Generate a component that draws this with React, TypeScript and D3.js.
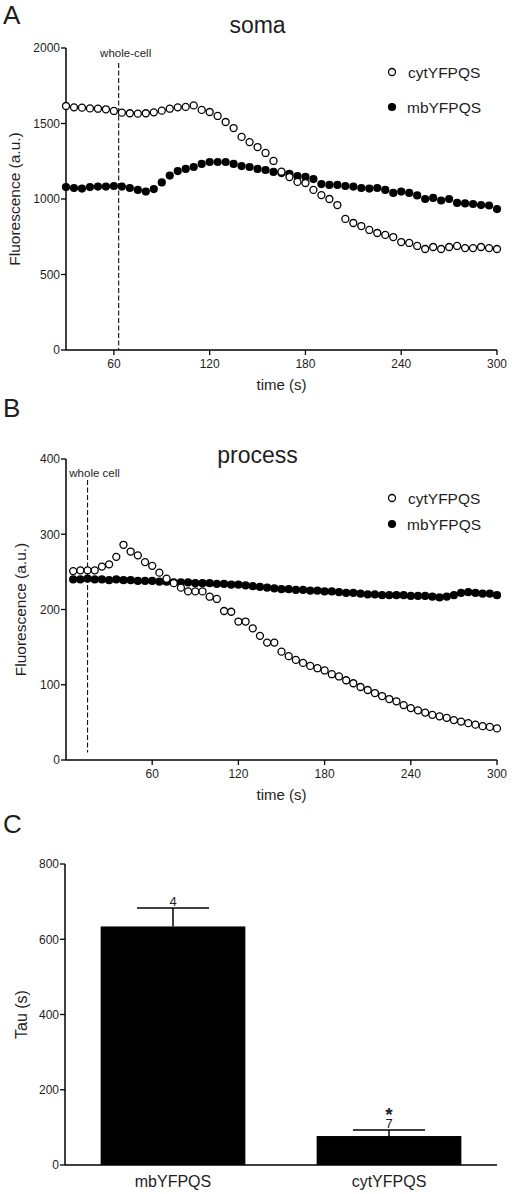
import React from "react";
import * as d3 from "d3";

// ---------- DATA ----------
// Panel A (soma): time 30..300 s every 5 s
const somaTimes: number[] = d3.range(30, 301, 5);
const somaCyt: number[] = [
  1616, 1607, 1605, 1600, 1598, 1594, 1583, 1572, 1568, 1565, 1568, 1574, 1585, 1598, 1607, 1610,
  1620, 1590, 1576, 1550, 1510, 1470, 1411, 1377, 1344, 1305, 1252, 1181, 1145, 1113, 1106, 1060,
  1026, 1000, 960, 868, 841, 821, 795, 775, 762, 748, 715, 709, 689, 669, 682, 669, 682, 689, 675,
  675, 682, 675, 669,
];
const somaMb: number[] = [
  1079, 1073, 1069, 1079, 1082, 1082, 1086, 1082, 1073, 1060, 1049, 1066, 1110, 1155, 1185, 1199,
  1212, 1232, 1245, 1245, 1245, 1232, 1218, 1212, 1199, 1192, 1179, 1172, 1166, 1152, 1146, 1132,
  1099, 1093, 1093, 1086, 1082, 1073, 1069, 1073, 1060, 1040, 1049, 1040, 1024, 1000, 1007, 990,
  1000, 974, 971, 967, 960, 957, 933,
];
// Panel B (process): time 5..300 s every 5 s
const procTimes: number[] = d3.range(5, 301, 5);
const procCyt: number[] = [
  251, 252, 252, 252, 257, 260, 270, 286, 277, 272, 263, 258, 249, 241, 235, 229, 224, 224, 224, 217,
  214, 198, 197, 184, 184, 175, 165, 156, 156, 144, 138, 133, 129, 125, 122, 119, 114, 111, 106, 102,
  97, 93, 89, 85, 81, 78, 73, 69, 66, 63, 60, 58, 56, 53, 51, 49, 47, 45, 44, 42,
];
const procMb: number[] = [
  240, 240, 241, 240, 240, 239, 240, 239, 239, 238, 238, 238, 237, 237, 236, 236, 236, 235, 235, 235,
  234, 234, 233, 233, 232, 231, 230, 229, 228, 227, 227, 226, 226, 225, 225, 224, 224, 223, 222, 222,
  221, 220, 220, 219, 219, 219, 219, 218, 218, 218, 217, 216, 217, 219, 222, 223, 222, 221, 221, 219,
];
const somaWholeCellTime = 63;
const procWholeCellTime = 15;
const somaDashRange: [number, number] = [0, 1900];
const procDashRange: [number, number] = [10, 372];

const somaXTicks = [60, 120, 180, 240, 300];
const somaYTicks = [0, 500, 1000, 1500, 2000];
const procXTicks = [60, 120, 180, 240, 300];
const procYTicks = [0, 100, 200, 300, 400];

// Panel C
const barCategories = ["mbYFPQS", "cytYFPQS"];
const barMeans = [634, 77];
const barErrors = [49, 16];
const barNs = ["4", "7"];
const barStars = ["", "*"];
const barYTicks = [0, 200, 400, 600, 800];

const seriesNames = ["cytYFPQS", "mbYFPQS"];

const FONT = "'Liberation Sans', Arial, Helvetica, sans-serif";
const TXT = "#1e1e1e";

type PanelProps = {
  times: number[];
  cyt: number[];
  mb: number[];
  xDomain: [number, number];
  yDomain: [number, number];
  top: number;
  bottom: number;
  xTicks: number[];
  yTicks: number[];
  title: string;
  titleY: number;
  letter: string;
  letterY: number;
  wcTime: number;
  wcRange: [number, number];
  wcLabel: string;
  wcLabelY: number;
  legendY: [number, number];
  yLabelX: number;
};

const LEFT = 66;
const RIGHT = 497;

function LinePanel(p: PanelProps) {
  const x = d3.scaleLinear().domain(p.xDomain).range([LEFT, RIGHT]);
  const y = d3.scaleLinear().domain(p.yDomain).range([p.bottom, p.top]);
  const r = 3.5;
  return (
    <g>
      <text x={3} y={p.letterY} fontSize={26} fontFamily={FONT} fill={TXT}>
        {p.letter}
      </text>
      <text x={257.5} y={p.titleY} fontSize={23} fontFamily={FONT} fill={TXT} textAnchor="middle">
        {p.title}
      </text>
      {/* whole-cell dashed line */}
      <line
        x1={x(p.wcTime)}
        x2={x(p.wcTime)}
        y1={y(p.wcRange[1])}
        y2={y(p.wcRange[0])}
        stroke="#111"
        strokeWidth={1.1}
        strokeDasharray="5,2.5"
      />
      <text x={x(p.wcTime) + 7} y={p.wcLabelY} fontSize={11.5} fontFamily={FONT} fill={TXT} textAnchor="middle">
        {p.wcLabel}
      </text>
      {/* axes */}
      <line x1={LEFT} x2={LEFT} y1={p.top} y2={p.bottom} stroke="#000" strokeWidth={1.5} />
      <line x1={LEFT} x2={RIGHT} y1={p.bottom} y2={p.bottom} stroke="#000" strokeWidth={1.5} />
      {p.yTicks.map((t) => (
        <g key={"yt" + t}>
          <line x1={LEFT - 5} x2={LEFT} y1={y(t)} y2={y(t)} stroke="#000" strokeWidth={1.3} />
          <text x={LEFT - 6} y={y(t) + 4.3} fontSize={12} fontFamily={FONT} fill={TXT} textAnchor="end">
            {t}
          </text>
        </g>
      ))}
      {p.xTicks.map((t) => (
        <g key={"xt" + t}>
          <line x1={x(t)} x2={x(t)} y1={p.bottom} y2={p.bottom + 5} stroke="#000" strokeWidth={1.3} />
          <text x={x(t)} y={p.bottom + 17.5} fontSize={12} fontFamily={FONT} fill={TXT} textAnchor="middle">
            {t}
          </text>
        </g>
      ))}
      <text x={281.5} y={p.bottom + 40} fontSize={15} fontFamily={FONT} fill={TXT} textAnchor="middle">
        time (s)
      </text>
      <text
        transform={`translate(${p.yLabelX},${(p.top + p.bottom) / 2}) rotate(-90)`}
        fontSize={15.5}
        fontFamily={FONT}
        fill={TXT}
        textAnchor="middle"
      >
        Fluorescence (a.u.)
      </text>
      {/* series: filled first, open on top */}
      {p.mb.map((v, i) => (
        <circle key={"mb" + i} cx={x(p.times[i])} cy={y(v)} r={r + 0.6} fill="#000" />
      ))}
      {p.cyt.map((v, i) => (
        <circle key={"cy" + i} cx={x(p.times[i])} cy={y(v)} r={r} fill="#fff" stroke="#000" strokeWidth={1.3} />
      ))}
      {/* legend */}
      <circle cx={392} cy={p.legendY[0]} r={r} fill="#fff" stroke="#000" strokeWidth={1.3} />
      <text x={408} y={p.legendY[0] + 5.5} fontSize={15.5} fontFamily={FONT} fill={TXT}>
        {seriesNames[0]}
      </text>
      <circle cx={392} cy={p.legendY[1]} r={r + 0.6} fill="#000" />
      <text x={407} y={p.legendY[1] + 5.5} fontSize={15.5} fontFamily={FONT} fill={TXT}>
        {seriesNames[1]}
      </text>
    </g>
  );
}

function BarPanel() {
  const top = 864;
  const bottom = 1165;
  const y = d3.scaleLinear().domain([0, 800]).range([bottom, top]);
  const x = d3.scaleBand<string>().domain(barCategories).range([65, 497]).paddingInner(0.33).paddingOuter(0.165);
  const bw = x.bandwidth();
  return (
    <g>
      <text x={3} y={833} fontSize={26} fontFamily={FONT} fill={TXT}>
        C
      </text>
      {barCategories.map((c, i) => {
        const x0 = x(c) as number;
        const cx = x0 + bw / 2;
        const topY = y(barMeans[i]);
        const errY = y(barMeans[i] + barErrors[i]);
        return (
          <g key={c}>
            <rect x={x0} y={topY} width={bw} height={bottom - topY} fill="#000" />
            <line x1={cx} x2={cx} y1={topY} y2={errY} stroke="#000" strokeWidth={1.5} />
            <line x1={cx - 36} x2={cx + 36} y1={errY} y2={errY} stroke="#000" strokeWidth={1.5} />
            <text x={cx} y={errY - 2.5} fontSize={13} fontFamily={FONT} fill={TXT} textAnchor="middle">
              {barNs[i]}
            </text>
            {barStars[i] && (
              <text x={cx} y={errY - 16} fontSize={19} fontWeight="bold" fontFamily={FONT} fill={TXT} textAnchor="middle" dominantBaseline="central">
                {barStars[i]}
              </text>
            )}
            <text x={cx} y={1187} fontSize={16} fontFamily={FONT} fill={TXT} textAnchor="middle">
              {c}
            </text>
          </g>
        );
      })}
      <line x1={65} x2={65} y1={top} y2={bottom} stroke="#000" strokeWidth={1.5} />
      <line x1={65} x2={497} y1={bottom} y2={bottom} stroke="#000" strokeWidth={1.5} />
      {barYTicks.map((t) => (
        <g key={"by" + t}>
          <line x1={60} x2={65} y1={y(t)} y2={y(t)} stroke="#000" strokeWidth={1.3} />
          <text x={59} y={y(t) + 4.3} fontSize={12} fontFamily={FONT} fill={TXT} textAnchor="end">
            {t}
          </text>
        </g>
      ))}
      <text
        transform={`translate(26.5,${(top + bottom) / 2}) rotate(-90)`}
        fontSize={16}
        fontFamily={FONT}
        fill={TXT}
        textAnchor="middle"
      >
        Tau (s)
      </text>
    </g>
  );
}

export default function App() {
  return (
    <svg
      width={512}
      height={1194}
      style={{ position: "absolute", left: 0, top: 0, background: "#fff" }}
    >
      <rect x={0} y={0} width={512} height={1194} fill="#fff" />
      <LinePanel
        times={somaTimes}
        cyt={somaCyt}
        mb={somaMb}
        xDomain={[30, 300]}
        yDomain={[0, 2000]}
        top={48}
        bottom={350}
        xTicks={somaXTicks}
        yTicks={somaYTicks}
        title="soma"
        titleY={33}
        letter="A"
        letterY={24}
        wcTime={somaWholeCellTime}
        wcRange={somaDashRange}
        wcLabel="whole-cell"
        wcLabelY={57}
        legendY={[72, 107]}
        yLabelX={19.5}
      />
      <LinePanel
        times={procTimes}
        cyt={procCyt}
        mb={procMb}
        xDomain={[0, 300]}
        yDomain={[0, 400]}
        top={459}
        bottom={760}
        xTicks={procXTicks}
        yTicks={procYTicks}
        title="process"
        titleY={463}
        letter="B"
        letterY={417}
        wcTime={procWholeCellTime}
        wcRange={procDashRange}
        wcLabel="whole cell"
        wcLabelY={477}
        legendY={[498, 524]}
        yLabelX={26}
      />
      <BarPanel />
    </svg>
  );
}
